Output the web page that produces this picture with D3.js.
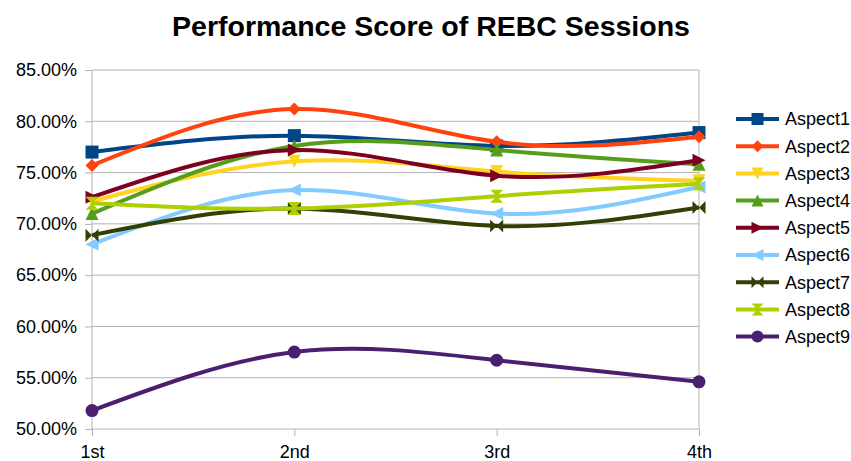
<!DOCTYPE html>
<html>
<head>
<meta charset="utf-8">
<script src="https://cdn.jsdelivr.net/npm/d3@7"></script>
<style>
  body { margin: 0; background: #fff; }
  text { font-family: "Liberation Sans", Arial, sans-serif; fill: #000; }
</style>
</head>
<body>
<div id="chart"></div>
<script>
// data
var sessions = ["1st", "2nd", "3rd", "4th"];
var aspects = ["Aspect1", "Aspect2", "Aspect3", "Aspect4", "Aspect5", "Aspect6", "Aspect7", "Aspect8", "Aspect9"];
var aspect1 = [0.770, 0.786, 0.776, 0.789];
var aspect2 = [0.757, 0.812, 0.780, 0.785];
var aspect3 = [0.722, 0.761, 0.751, 0.742];
var aspect4 = [0.710, 0.776, 0.772, 0.758];
var aspect5 = [0.726, 0.772, 0.747, 0.762];
var aspect6 = [0.680, 0.733, 0.710, 0.736];
var aspect7 = [0.689, 0.715, 0.698, 0.716];
var aspect8 = [0.720, 0.715, 0.727, 0.739];
var aspect9 = [0.518, 0.575, 0.567, 0.546];
var yTicks = [0.50, 0.55, 0.60, 0.65, 0.70, 0.75, 0.80, 0.85];

var seriesValues = [aspect1, aspect2, aspect3, aspect4, aspect5, aspect6, aspect7, aspect8, aspect9];
var colors = ["#004586", "#ff420e", "#ffd320", "#579d1c", "#7e0021", "#83caff", "#314004", "#aecf00", "#4b1f6f"];
var shapes = ["square", "diamond", "down", "up", "right", "left", "bowtie", "hourglass", "circle"];

var width = 851, height = 461;
var svg = d3.select("#chart").append("svg").attr("width", width).attr("height", height);

var x_scale = d3.scalePoint().domain(sessions).range([92, 699]);
var y_scale = d3.scaleLinear().domain([0.50, 0.85]).range([429, 70]);

// marker shapes
function markerPath(shape, s) {
    switch (shape) {
        case "square": return "M" + (-s) + "," + (-s) + "h" + 2 * s + "v" + 2 * s + "h" + (-2 * s) + "Z";
        case "diamond": return "M0," + (-s) + "L" + s + ",0L0," + s + "L" + (-s) + ",0Z";
        case "down": return "M" + (-s) + "," + (-s) + "L" + s + "," + (-s) + "L0," + s + "Z";
        case "up": return "M0," + (-s) + "L" + s + "," + s + "L" + (-s) + "," + s + "Z";
        case "right": return "M" + (-s) + "," + (-s) + "L" + s + ",0L" + (-s) + "," + s + "Z";
        case "left": return "M" + s + "," + (-s) + "L" + (-s) + ",0L" + s + "," + s + "Z";
        case "bowtie": return "M" + (-s) + "," + (-s) + "L" + s + "," + s + "L" + s + "," + (-s) + "L" + (-s) + "," + s + "Z";
        case "hourglass": return "M" + (-s) + "," + (-s) + "L" + s + "," + (-s) + "L" + (-s) + "," + s + "L" + s + "," + s + "Z";
        default: return d3.symbol().type(d3.symbolCircle).size(Math.PI * s * s)();
    }
}

// title
svg.append("text")
    .attr("x", 431)
    .attr("y", 36)
    .attr("text-anchor", "middle")
    .style("font-weight", "bold")
    .style("font-size", "28.5px")
    .text("Performance Score of REBC Sessions");

// gridlines
svg.append("g")
    .selectAll("line")
    .data(yTicks)
    .enter()
    .append("line")
    .attr("x1", 92).attr("x2", 699)
    .attr("y1", function (d) { return y_scale(d); })
    .attr("y2", function (d) { return y_scale(d); })
    .attr("stroke", "#b3b3b3")
    .attr("stroke-width", 1);

// y axis
var y_axis = d3.axisLeft(y_scale).tickValues(yTicks).tickFormat(d3.format(".2%")).tickSize(7).tickPadding(8);
var gy = svg.append("g").attr("transform", "translate(92,0)").call(y_axis);
gy.select(".domain").remove();
gy.selectAll("line").attr("stroke", "#b3b3b3");
gy.selectAll("text").style("font-size", "18px").style("font-family", "Liberation Sans, Arial, sans-serif").attr("fill", "#000");

// x axis
var x_axis = d3.axisBottom(x_scale).tickSize(7).tickPadding(9);
var gx = svg.append("g").attr("transform", "translate(0,429)").call(x_axis);
gx.select(".domain").remove();
gx.selectAll("line").attr("stroke", "#b3b3b3");
gx.selectAll("text").style("font-size", "18px").style("font-family", "Liberation Sans, Arial, sans-serif").attr("fill", "#000");

// left and right walls
svg.append("g")
    .selectAll("line")
    .data([sessions[0], sessions[sessions.length - 1]])
    .enter()
    .append("line")
    .attr("x1", function (d) { return x_scale(d); })
    .attr("x2", function (d) { return x_scale(d); })
    .attr("y1", 70).attr("y2", 429)
    .attr("stroke", "#b3b3b3");

// series
var line = d3.line()
    .x(function (d, i) { return x_scale(sessions[i]); })
    .y(function (d) { return y_scale(d); })
    .curve(d3.curveNatural);

seriesValues.forEach(function (vals, k) {
    var g = svg.append("g");
    g.append("path")
        .attr("d", line(vals))
        .attr("fill", "none")
        .attr("stroke", colors[k])
        .attr("stroke-width", 4);
    g.selectAll("path.mark")
        .data(vals)
        .enter()
        .append("path")
        .attr("class", "mark")
        .attr("d", markerPath(shapes[k], 6.5))
        .attr("transform", function (d, i) { return "translate(" + x_scale(sessions[i]) + "," + y_scale(d) + ")"; })
        .attr("fill", colors[k]);
});

// legend
var legend = svg.append("g").selectAll("g")
    .data(aspects)
    .enter()
    .append("g")
    .attr("transform", function (d, i) { return "translate(736," + (119 + i * 27.2) + ")"; });
legend.append("line")
    .attr("x1", 0).attr("x2", 43)
    .attr("stroke", function (d, i) { return colors[i]; })
    .attr("stroke-width", 4);
legend.append("path")
    .attr("d", function (d, i) { return markerPath(shapes[i], 6); })
    .attr("transform", "translate(21.5,0)")
    .attr("fill", function (d, i) { return colors[i]; });
legend.append("text")
    .attr("x", 49)
    .attr("dy", "0.35em")
    .style("font-size", "18px")
    .text(function (d) { return d; });
</script>
</body>
</html>
